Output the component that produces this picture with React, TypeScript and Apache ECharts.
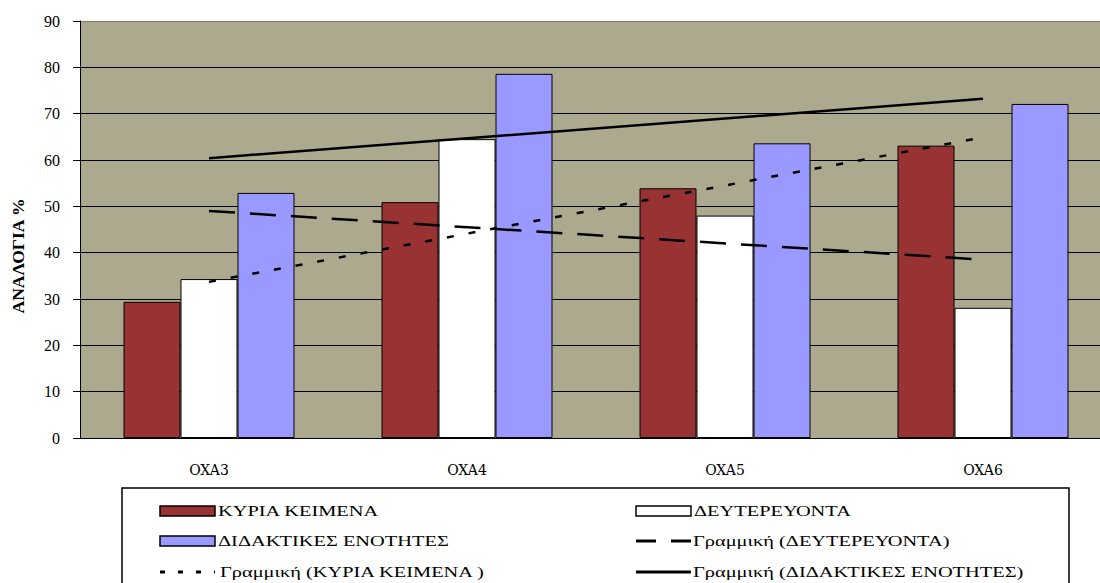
import React, { useEffect, useRef } from "react";
import * as echarts from "echarts";

const categories = ["OXA3", "OXA4", "OXA5", "OXA6"];
const kyriaKeimena = [29.4, 50.9, 53.9, 63.1];
const deftereuonta = [34.3, 64.5, 48.0, 28.1];
const didaktikes = [52.9, 78.6, 63.6, 72.1];
// linear trendline end points (first and last category)
const trendKyria = [33.7, null, null, 64.9];
const trendDeft = [49.0, null, null, 38.5];
const trendDid = [60.4, null, null, 73.2];
const yTicks = [0, 10, 20, 30, 40, 50, 60, 70, 80, 90];

const FONT = "Liberation Serif";

export default function App() {
  const ref = useRef<HTMLDivElement>(null);
  useEffect(() => {
    const chart = echarts.init(ref.current!, null, { renderer: "svg" });
    const gridLineColors = yTicks.map((v) => (v === 90 ? "#7d7a62" : "#000"));
    const legendY = [511, 541, 572];
    const col1 = 160;
    const col2 = 636;
    const swW = 55;
    const textStyle = { fontFamily: FONT, fontSize: 15, fill: "#000", verticalAlign: "middle" };
    const SX = 1.36;
    chart.setOption({
      animation: false,
      backgroundColor: "#fff",
      textStyle: { fontFamily: FONT },
      grid: {
        left: 80,
        top: 21,
        right: 0,
        bottom: 145,
        show: true,
        backgroundColor: "#ADA98F",
        borderWidth: 0,
      },
      xAxis: {
        type: "category",
        data: categories,
        axisLine: { lineStyle: { color: "#000", width: 1 } },
        axisTick: { length: 5, lineStyle: { color: "#000" } },
        axisLabel: { color: "#000", fontFamily: "DejaVu Serif", fontSize: 14, margin: 25 },
        splitLine: { show: false },
      },
      yAxis: {
        type: "value",
        min: 0,
        max: 90,
        interval: 10,
        axisLine: { show: true, lineStyle: { color: "#000", width: 1 } },
        axisTick: { show: true, length: 7, lineStyle: { color: "#000" } },
        axisLabel: { color: "#000", fontFamily: FONT, fontSize: 16, margin: 20 },
        splitLine: { show: true, lineStyle: { color: gridLineColors, width: 1 } },
      },
      series: [
        {
          name: "ΚΥΡΙΑ ΚΕΙΜΕΝΑ",
          type: "bar",
          data: kyriaKeimena,
          barWidth: 57,
          barGap: "0%",
          itemStyle: { color: "#993333", borderColor: "#000", borderWidth: 1 },
        },
        {
          name: "ΔΕΥΤΕΡΕΥΟΝΤΑ",
          type: "bar",
          data: deftereuonta,
          barWidth: 57,
          barGap: "0%",
          itemStyle: { color: "#ffffff", borderColor: "#000", borderWidth: 1 },
        },
        {
          name: "ΔΙΔΑΚΤΙΚΕΣ ΕΝΟΤΗΤΕΣ",
          type: "bar",
          data: didaktikes,
          barWidth: 57,
          barGap: "0%",
          itemStyle: { color: "#9999FF", borderColor: "#000", borderWidth: 1 },
        },
        {
          name: "Γραμμική (ΔΕΥΤΕΡΕΥΟΝΤΑ)",
          type: "line",
          data: trendDeft,
          connectNulls: true,
          symbol: "none",
          z: 5,
          lineStyle: { color: "#000", width: 2.5, type: [26, 15] },
        },
        {
          name: "Γραμμική (ΚΥΡΙΑ ΚΕΙΜΕΝΑ )",
          type: "line",
          data: trendKyria,
          connectNulls: true,
          symbol: "none",
          z: 5,
          lineStyle: { color: "#000", width: 2.5, type: [7, 15] },
        },
        {
          name: "Γραμμική (ΔΙΔΑΚΤΙΚΕΣ ΕΝΟΤΗΤΕΣ)",
          type: "line",
          data: trendDid,
          connectNulls: true,
          symbol: "none",
          z: 5,
          lineStyle: { color: "#000", width: 2.5 },
        },
      ],
      graphic: [
        {
          type: "text",
          x: 19,
          y: 256,
          rotation: Math.PI / 2,
          scaleX: 1.1,
          style: {
            text: "ΑΝΑΛΟΓΙΑ %",
            fontFamily: FONT,
            fontSize: 16,
            fontWeight: "bold",
            fill: "#000",
            align: "center",
            verticalAlign: "middle",
          },
        },
        {
          type: "rect",
          shape: { x: 122, y: 488, width: 947, height: 110 },
          style: { fill: "#fff", stroke: "#000", lineWidth: 1.5 },
        },
        // row 1
        {
          type: "rect",
          shape: { x: col1, y: legendY[0] - 5, width: swW, height: 10 },
          style: { fill: "#993333", stroke: "#000", lineWidth: 1.5 },
        },
        { type: "text", x: col1 + swW + 3, y: legendY[0], scaleX: SX, style: { ...textStyle, text: "ΚΥΡΙΑ ΚΕΙΜΕΝΑ" } },
        {
          type: "rect",
          shape: { x: col2, y: legendY[0] - 5, width: swW, height: 10 },
          style: { fill: "#fff", stroke: "#000", lineWidth: 1.5 },
        },
        { type: "text", x: col2 + swW + 3, y: legendY[0], scaleX: SX, style: { ...textStyle, text: "ΔΕΥΤΕΡΕΥΟΝΤΑ" } },
        // row 2
        {
          type: "rect",
          shape: { x: col1, y: legendY[1] - 5, width: swW, height: 10 },
          style: { fill: "#9999FF", stroke: "#000", lineWidth: 1.5 },
        },
        { type: "text", x: col1 + swW + 3, y: legendY[1], scaleX: SX, style: { ...textStyle, text: "ΔΙΔΑΚΤΙΚΕΣ ΕΝΟΤΗΤΕΣ" } },
        {
          type: "line",
          shape: { x1: col2, y1: legendY[1], x2: col2 + swW, y2: legendY[1] },
          style: { stroke: "#000", lineWidth: 3, lineDash: [20, 15] },
        },
        { type: "text", x: col2 + swW + 2, y: legendY[1], scaleX: SX, style: { ...textStyle, text: "Γραμμική (ΔΕΥΤΕΡΕΥΟΝΤΑ)" } },
        // row 3
        {
          type: "line",
          shape: { x1: col1, y1: legendY[2], x2: col1 + swW, y2: legendY[2] },
          style: { stroke: "#000", lineWidth: 3, lineDash: [5, 13] },
        },
        { type: "text", x: col1 + swW + 5, y: legendY[2], scaleX: SX, style: { ...textStyle, text: "Γραμμική (ΚΥΡΙΑ ΚΕΙΜΕΝΑ )" } },
        {
          type: "line",
          shape: { x1: col2, y1: legendY[2], x2: col2 + swW, y2: legendY[2] },
          style: { stroke: "#000", lineWidth: 3 },
        },
        { type: "text", x: col2 + swW + 2, y: legendY[2], scaleX: SX, style: { ...textStyle, text: "Γραμμική (ΔΙΔΑΚΤΙΚΕΣ ΕΝΟΤΗΤΕΣ)" } },
      ],
    });
    return () => chart.dispose();
  }, []);
  return (
    <div style={{ position: "fixed", left: 0, top: 0, width: 1100, height: 583, overflow: "hidden", background: "#fff" }}>
      <div ref={ref} style={{ width: 1112, height: 583 }} />
    </div>
  );
}
